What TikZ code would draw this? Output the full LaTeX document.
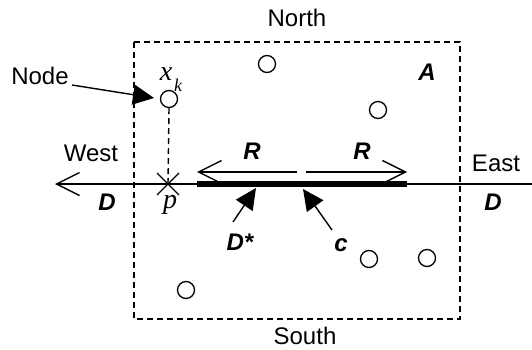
\documentclass[tikz,border=0pt]{standalone}
\usepackage{fontspec}
\setmainfont{Liberation Sans}
\newfontfamily\serif{Liberation Serif}
\usetikzlibrary{arrows.meta,calc}
\tikzset{
  thinline/.style={line width=1.4pt},
  frame/.style={line width=1.4pt, dash pattern=on 6pt off 4pt},
  site/.style={circle, draw, line width=1.3pt, minimum size=17pt, inner sep=0pt},
  txt/.style={font=\fontsize{24}{26}\selectfont, inner sep=0pt},
  sym/.style={font=\fontsize{24}{26}\selectfont\bfseries\itshape, inner sep=0pt},
  var/.style={font=\fontsize{28}{30}\selectfont\serif\itshape, inner sep=0pt},
  openhead/.style={-{Straight Barb[length=23pt, width=23pt, line width=1.4pt]}},
  solidhead/.style={-{Triangle[length=21pt, width=20pt]}},
}
\begin{document}
\begin{tikzpicture}[x=1pt, y=-1pt]
  \useasboundingbox (0,0) rectangle (532,350);

  % region A
  \draw[frame] (134,42) rectangle (460,319);

  % sites
  \node[site] (xk) at (169,99) {};
  \node[site] (s1) at (267,64) {};
  \node[site] (s2) at (378,110) {};
  \node[site] (s3) at (186,290) {};
  \node[site] (s4) at (369,259) {};
  \node[site] (s5) at (427,258) {};

  % the line D through the region
  \coordinate (wtip) at (55,184);
  \coordinate (eend) at (532,184);
  \coordinate (p) at (168,184);
  \draw[thinline, openhead] (eend) -- (wtip);

  % segment D*
  \coordinate (da) at (197,184);
  \coordinate (db) at (407,184);
  \draw[line width=6.5pt] (da) -- (db);

  % projection of x_k onto D
  \draw[frame] (xk.south) -- (p);
  \draw[thinline] ($(p)+(-11,-11)$) -- ($(p)+(11,11)$)
                  ($(p)+(-11,11)$) -- ($(p)+(11,-11)$);

  % radius arrows
  \coordinate (rl) at (297,172);
  \coordinate (rr) at (306,172);
  \coordinate (rlt) at (197,172);
  \coordinate (rrt) at (407,172);
  \draw[thinline, openhead] (rl) -- (rlt);
  \draw[thinline, openhead] (rr) -- (rrt);

  % labels
  \node[txt] (north) at (297,18) {North};
  \node[txt] (south) at (305,336) {South};
  \node[txt] (west) at (91,153) {West};
  \node[txt] (east) at (496,163) {East};
  \node[txt] (nodelbl) at (40,76) {Node};
  \node[sym] (A) at (427,72) {A};
  \node[sym] (R1) at (252,151) {R};
  \node[sym] (R2) at (362,151) {R};
  \node[sym] (Dl) at (107,202) {D};
  \node[sym] (Dr) at (493,202) {D};
  \node[sym] (Dstar) at (240,242) {D*};
  \node[sym] (c) at (341,245) {c};
  \node[var] (xlbl) at (166,74) {x};
  \node[font=\fontsize{18}{20}\selectfont\serif\itshape, inner sep=0pt] (klbl) at (178,85) {k};
  \node[var] (plbl) at (170,205) {p};

  % pointers
  \coordinate (nodefrom) at (72,85);
  \coordinate (nodeptr) at (154,98);
  \coordinate (dsfrom) at (233,222);
  \coordinate (dsptr) at (256,188);
  \coordinate (cfrom) at (332,230);
  \coordinate (cptr) at (303,189);
  \draw[thinline, solidhead] (nodefrom) -- (nodeptr);
  \draw[thinline, solidhead] (dsfrom) -- (dsptr);
  \draw[thinline, solidhead] (cfrom) -- (cptr);
\end{tikzpicture}
\end{document}
